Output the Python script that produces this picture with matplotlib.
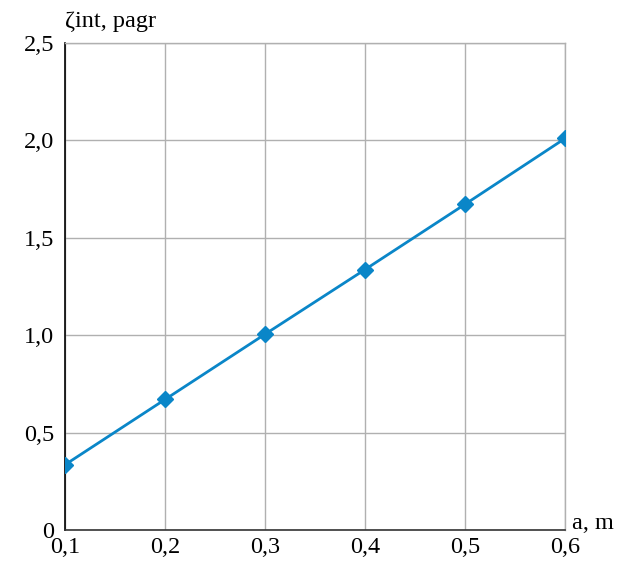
import matplotlib
matplotlib.use("Agg")
import matplotlib.pyplot as plt

a_values = [0.1, 0.2, 0.3, 0.4, 0.5, 0.6]
zeta_values = [0.335, 0.67, 1.005, 1.337, 1.672, 2.01]
x_ticks = [0.1, 0.2, 0.3, 0.4, 0.5, 0.6]
x_labels = ["0,1", "0,2", "0,3", "0,4", "0,5", "0,6"]
y_ticks = [0, 0.5, 1.0, 1.5, 2.0, 2.5]
y_labels = ["0", "0,5", "1,0", "1,5", "2,0", "2,5"]

plt.rcParams['font.family'] = ['Liberation Serif', 'DejaVu Serif']

fig = plt.figure(figsize=(6.21, 5.62), dpi=100)
ax = fig.add_axes([65/621, 32/562, 500/621, 487/562])

color = "#0a86c8"
ax.plot(a_values, zeta_values, color=color, lw=2, marker="D", markersize=8,
        markerfacecolor=color, markeredgecolor=color, zorder=3)

fs = 17.5
ax.set_xlim(0.1, 0.6)
ax.set_ylim(0, 2.5)
ax.set_xticks(x_ticks)
ax.set_xticklabels(x_labels)
ax.set_yticks(y_ticks)
ax.set_yticklabels(y_labels)
ax.tick_params(length=0, labelsize=fs)
ax.tick_params(axis='x', pad=5)
ax.tick_params(axis='y', pad=8)
ax.grid(True, color="#b0b0b0", lw=1)
ax.set_axisbelow(True)

for s in ["top", "right"]:
    ax.spines[s].set_color("#b0b0b0")
    ax.spines[s].set_linewidth(1)
ax.spines["left"].set_color("black")
ax.spines["bottom"].set_color("#333333")
ax.spines["left"].set_linewidth(1.2)
ax.spines["bottom"].set_linewidth(1.2)

fig.text(65/621, 1 - 27/562, "ζint, pagr", fontsize=fs, ha="left", va="baseline")
fig.text(572/621, 1 - 529/562, "a, m", fontsize=fs, ha="left", va="baseline")

fig.savefig("out.png", dpi=100)
